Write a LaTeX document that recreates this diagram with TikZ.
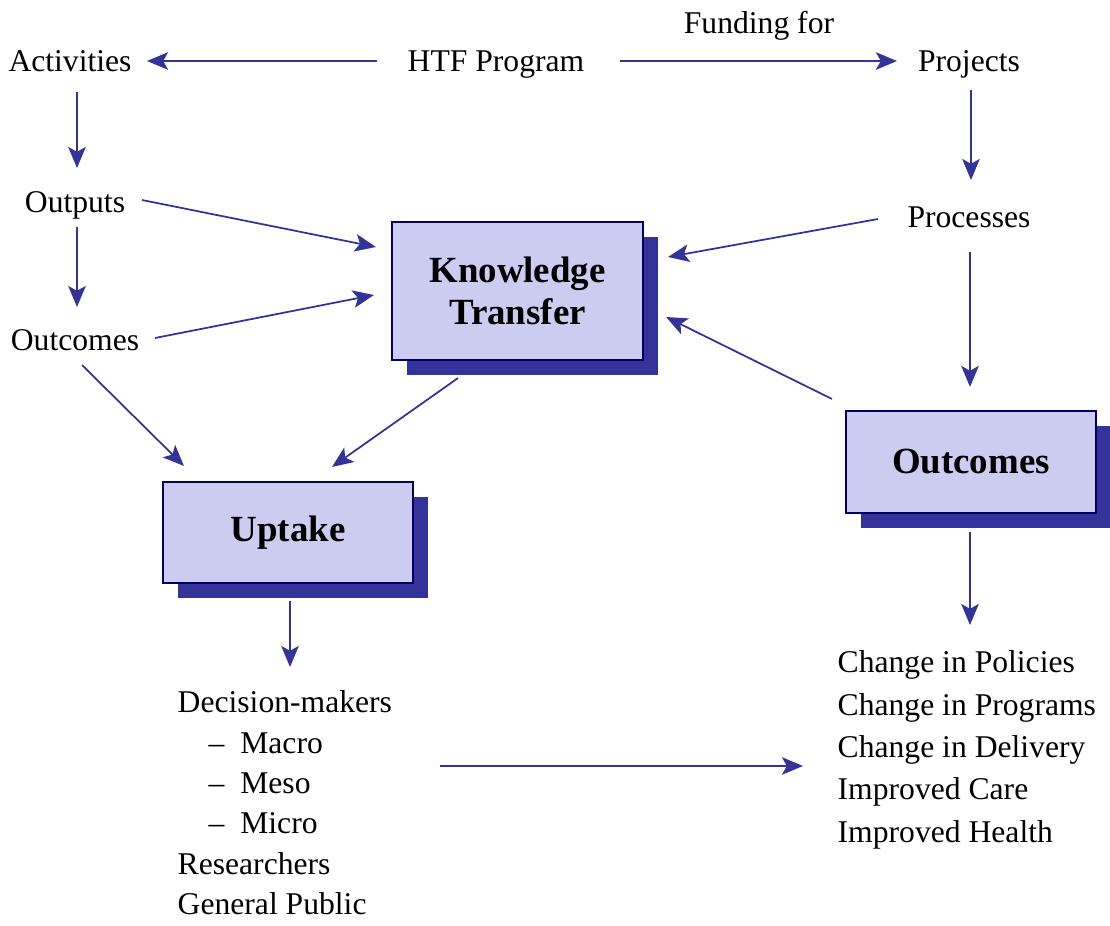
\documentclass[tikz,border=0pt]{standalone}
\usepackage{fontspec}
\setmainfont{Liberation Serif}
\usetikzlibrary{arrows.meta,shadows}
\definecolor{arrowblue}{RGB}{51,51,153}
\definecolor{boxfill}{RGB}{204,204,240}
\definecolor{boxline}{RGB}{0,0,102}
\definecolor{shadowblue}{RGB}{51,51,153}

\begin{document}
\begin{tikzpicture}[>={Stealth[length=6pt,width=5pt,inset=1.4pt]},
  arr/.style={->,arrowblue,line width=0.5pt},
  lbl/.style={font=\fontsize{9}{11}\selectfont,anchor=base,inner sep=0pt},
  box/.style={draw=boxline,fill=boxfill,line width=0.6pt,inner sep=0pt,
    font=\fontsize{10.5}{12}\selectfont\bfseries,align=center,
    drop shadow={shadow xshift=0.15cm,shadow yshift=-0.15cm,fill=shadowblue,opacity=1}}]
  \useasboundingbox (0,0) rectangle (11.1,-9.26);
  % top row
  \node[lbl] (funding) at (7.59,-0.33) {Funding for};
  \node[lbl] (htf) at (4.96,-0.715) {HTF Program};
  \node[lbl] (activities) at (0.70,-0.715) {Activities};
  \node[lbl] (projects) at (9.69,-0.715) {Projects};
  % left and right columns
  \node[lbl] (outputs) at (0.75,-2.12) {Outputs};
  \node[lbl] (outcomesL) at (0.75,-3.50) {Outcomes};
  \node[lbl] (processes) at (9.69,-2.27) {Processes};
  % boxes
  \node[box,minimum width=2.51cm,minimum height=1.38cm] (kt) at (5.175,-2.91) {Knowledge\\Transfer};
  \node[box,minimum width=2.50cm,minimum height=1.01cm] (uptake) at (2.88,-5.325) {Uptake};
  \node[box,minimum width=2.50cm,minimum height=1.02cm] (outbox) at (9.71,-4.62) {Outcomes};
  % lists
  \node[anchor=north west,inner sep=0pt,align=left,font=\fontsize{9}{11.5}\selectfont] (decision) at (1.77,-6.90)
    {Decision-makers\\\hspace*{0.31cm}--\enspace Macro\\\hspace*{0.31cm}--\enspace Meso\\\hspace*{0.31cm}--\enspace Micro\\Researchers\\General Public};
  \node[anchor=north west,inner sep=0pt,align=left,font=\fontsize{9}{12.05}\selectfont] (change) at (8.37,-6.50)
    {Change in Policies\\Change in Programs\\Change in Delivery\\Improved Care\\Improved Health};
  % connectors
  \draw[arr] ([shift={(-1.19,0.105)}]htf.base) -- ([shift={(0.77,0.105)}]activities.base);
  \draw[arr] ([shift={(1.24,0.105)}]htf.base) -- ([shift={(-0.72,0.105)}]projects.base);
  \draw[arr] ([shift={(0.07,-0.205)}]activities.base) -- ([shift={(0.02,0.44)}]outputs.base);
  \draw[arr] ([shift={(0.02,-0.15)}]outputs.base) -- ([shift={(0.02,0.43)}]outcomesL.base);
  \draw[arr] ([shift={(0.02,-0.185)}]projects.base) -- ([shift={(0.02,0.47)}]processes.base);
  \draw[arr] ([shift={(0.01,-0.25)}]processes.base) -- ([shift={(-0.01,0.23)}]outbox.north);
  \draw[arr] ([shift={(0.67,0.12)}]outputs.base) -- ([shift={(-0.15,0.44)}]kt.west);
  \draw[arr] ([shift={(0.80,0.12)}]outcomesL.base) -- ([shift={(-0.17,-0.04)}]kt.west);
  \draw[arr] ([shift={(-0.91,0.08)}]processes.base) -- ([shift={(0.24,0.34)}]kt.east);
  \draw[arr] ([shift={(-0.13,0.11)}]outbox.north west) -- ([shift={(0.22,-0.26)}]kt.east);
  \draw[arr] ([shift={(0.07,-0.15)}]outcomesL.base) -- ([shift={(0.22,0.15)}]uptake.north west);
  \draw[arr] ([shift={(-0.595,-0.17)}]kt.south) -- ([shift={(0.44,0.14)}]uptake.north);
  \draw[arr] ([shift={(0.02,-0.17)}]uptake.south) -- ([shift={(1.13,0.23)}]decision.north west);
  \draw[arr] ([shift={(-0.01,-0.18)}]outbox.south) -- ([shift={(1.33,0.25)}]change.north west);
  \draw[arr] ([shift={(2.63,-0.76)}]decision.north west) -- ([shift={(-0.34,-1.16)}]change.north west);
\end{tikzpicture}
\end{document}
